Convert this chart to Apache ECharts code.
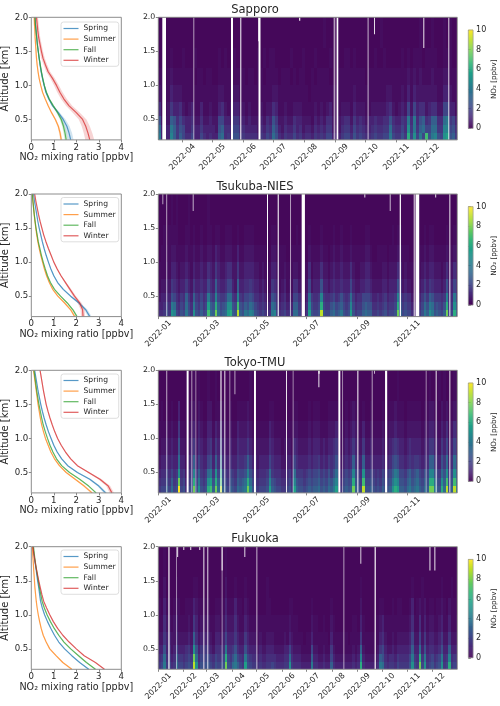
<!DOCTYPE html>
<html><head><meta charset="utf-8">
<style>html,body{margin:0;padding:0;background:#fff}#c{width:500px;height:706px}</style>
<script src="https://cdn.jsdelivr.net/npm/echarts@6/dist/echarts.min.js"></script>
</head><body><div id="c"></div>
<script>
const altitudes=[0.2,0.3,0.4,0.5,0.6,0.7,0.8,0.9,1.0,1.1,1.2,1.3,1.4,1.5,1.6,1.7,1.8,1.9,2.0];
const seasons=['Spring','Summer','Fall','Winter'];
const seasonColors=['#1f77b4','#ff7f0e','#2ca02c','#d62728'];
const stations=['Sapporo','Tsukuba-NIES','Tokyo-TMU','Fukuoka'];

// profiles [ppbv] at the altitudes above
const sapporoSpring=[1.75,1.68,1.58,1.42,1.2,.95,.78,.65,.57,.5,.44,.39,.35,.31,.27,.24,.21,.18,.16];
const sapporoSummer=[1.33,1.28,1.2,1.07,.9,.75,.62,.5,.42,.35,.3,.26,.23,.21,.19,.17,.16,.14,.13];
const sapporoFall=[1.55,1.5,1.43,1.33,1.17,.98,.8,.67,.58,.51,.45,.4,.35,.31,.27,.24,.21,.18,.17];
const sapporoWinter=[2.6,2.52,2.42,2.28,2.0,1.68,1.45,1.27,1.12,.95,.75,.63,.52,.45,.39,.33,.29,.26,.23];
const tsukubaSpring=[2.6,2.42,2.12,1.75,1.42,1.17,1.0,.87,.76,.66,.57,.49,.42,.35,.29,.24,.19,.14,.1];
const tsukubaSummer=[1.93,1.75,1.48,1.18,.95,.8,.68,.58,.5,.42,.35,.29,.24,.2,.16,.13,.1,.07,.05];
const tsukubaFall=[2.03,1.85,1.6,1.3,1.03,.85,.72,.62,.53,.45,.38,.31,.26,.21,.17,.13,.1,.07,.05];
const tsukubaWinter=[2.3,2.28,2.15,1.92,1.72,1.52,1.32,1.15,1.0,.88,.76,.65,.55,.47,.39,.32,.26,.2,.15];
const tokyoSpring=[3.3,3.0,2.6,2.05,1.62,1.35,1.15,1.0,.88,.76,.66,.57,.49,.42,.36,.3,.25,.2,.15];
const tokyoSummer=[2.7,2.35,1.95,1.55,1.25,1.03,.87,.75,.63,.54,.46,.4,.35,.3,.26,.22,.18,.14,.1];
const tokyoFall=[2.88,2.55,2.15,1.7,1.35,1.12,.96,.83,.72,.62,.53,.46,.4,.34,.29,.24,.2,.16,.12];
const tokyoWinter=[3.58,3.42,3.05,2.55,2.05,1.75,1.52,1.33,1.17,1.04,.93,.83,.74,.66,.6,.54,.49,.44,.39];
const fukuokaSpring=[2.55,2.15,1.8,1.48,1.22,1.03,.87,.72,.59,.49,.41,.37,.33,.28,.24,.2,.15,.11,.07];
const fukuokaSummer=[1.8,1.4,1.1,.82,.66,.53,.44,.37,.31,.26,.22,.19,.16,.14,.12,.1,.08,.06,.05];
const fukuokaFall=[2.85,2.45,2.1,1.75,1.45,1.22,1.02,.85,.7,.58,.48,.42,.36,.31,.26,.21,.17,.13,.1];
const fukuokaWinter=[3.25,2.85,2.35,2.0,1.68,1.4,1.17,.98,.82,.68,.55,.47,.4,.33,.27,.21,.16,.11,.07];

// half-width of the shaded band [ppbv]
const sapporoSpread=[[.13,.13,.12,.1,.07,.05,.04,.03,.03,.03,.03,.03,.02,.02,.02,.02,.02,.02,.02],[.05,.05,.04,.04,.03,.03,.02,.02,.02,.02,.02,.02,.02,.02,.02,.02,.02,.02,.02],[.07,.07,.06,.06,.05,.04,.03,.03,.03,.03,.03,.03,.03,.02,.02,.02,.02,.02,.02],[.2,.19,.18,.17,.16,.14,.13,.12,.11,.1,.09,.08,.08,.07,.07,.07,.07,.07,.07]];
const tsukubaSpread=[[.08,.08,.07,.05,.04,.03,.03,.02,.02,.02,.02,.02,.02,.02,.01,.01,.01,.01,.01],[.04,.04,.03,.03,.02,.02,.02,.01,.01,.01,.01,.01,.01,.01,.01,.01,.01,.01,.01],[.04,.04,.03,.03,.02,.02,.02,.02,.01,.01,.01,.01,.01,.01,.01,.01,.01,.01,.01],[.09,.09,.09,.07,.06,.04,.03,.03,.02,.02,.02,.02,.02,.02,.01,.01,.01,.01,.01]];
const tokyoSpread=[[.08,.07,.06,.05,.04,.03,.03,.03,.02,.02,.02,.02,.02,.02,.02,.01,.01,.01,.01],[.07,.06,.05,.04,.03,.02,.02,.02,.02,.01,.01,.01,.01,.01,.01,.01,.01,.01,.01],[.04,.03,.03,.03,.02,.02,.02,.02,.01,.01,.01,.01,.01,.01,.01,.01,.01,.01,.01],[.1,.09,.08,.06,.04,.03,.03,.02,.02,.02,.02,.02,.02,.02,.02,.02,.02,.02,.02]];
const fukuokaSpread=[[.04,.03,.03,.03,.02,.02,.02,.02,.02,.01,.01,.01,.01,.01,.01,.01,.01,.01,.01],[.04,.04,.03,.03,.02,.02,.02,.02,.01,.01,.01,.01,.01,.01,.01,.01,.01,.01,.01],[.04,.04,.04,.03,.03,.03,.02,.02,.02,.02,.02,.02,.02,.02,.01,.01,.01,.01,.01],[.03,.03,.03,.02,.02,.02,.02,.02,.02,.01,.01,.01,.01,.01,.01,.01,.01,.01,.01]];

// curtain cells: rows lowest layer first, one character per 3-day column
const layerEdges=[0.2,0.3,0.42,0.55,0.75,1.0,1.25,1.55,2.0];
const levelChars='0123456789abcdefghi';
const levelValues=[0.2,0.35,0.6,0.95,1.3,1.65,2.1,2.5,3.0,3.5,4.0,4.5,5.0,5.6,6.2,6.9,7.8,9,10];
const sapporoRows=[
'a333b85864 4633643433 8945377554 4443546597 4354464534 4354546633 3566475654 4565566a65 575e6c6a6f 7ab76cd785',
'9333a85763 3533533332 7844366443 3332435486 3243353423 3243435522 2455364543 3454455954 464c5a5896 69955bb674',
'7222874643 3422422322 6633255332 3222324375 2232243322 2132324421 2344253432 3343344743 354a4a4784 588449a563',
'4112533421 2311311211 3421233221 2111212243 1121122211 1121212311 1222132221 1222223421 2326263442 3442266331',
'2111322211 1111111111 2211122111 1111111122 1111111111 0111111111 1111121111 1111112211 1213132222 2221133211',
'1101211111 1101101100 1111111110 1101101111 0111010110 0101111000 1111111110 1111111111 1112121211 1211122111',
'0000100010 0010000000 1010010000 0001010110 0000100010 0010000100 0011010000 0010010000 0101011101 1110011100',
'0000000000 0000000000 0000000000 0000000000 0000000000 0000010000 0000000000 0000100000 0000000100 0100010100'];
const tsukubaRows=[
'44575cb657 6a75c76867 f98g9789de 87h87a9ba7 656544ab64 5645499633 5d7667h766 8978a767d7 5668988556 5675667g86 76643357a8 ca78768g66e8',
'33464a9546 5964a65756 d87e8678cc 76f7687986 5454339853 4534388522 4b6556e655 7867865 6b6 4557877445 4564556e75 6553224697 a96765 7e55c7',
'2334376435 4853854645 a65b655699 54b5466764 4343227642 3423266411 395445b544 5645754595 3446665334 3453445b64 5442113575 8755545b44a5',
'1223254323 3532533433 6438433466 3283344543 3232115431 2312144211 2623337332 3433433363 2233443222 2332333742 3221112353 543332373363',
'1112133212 2321322322 4325322344 2252233332 2121113321 1211122111 1412224221 2322322242 1122332111 1221222431 2111111232 332221242242',
'0111122111 1211211211 2213211222 1131122221 1111002211 1100111100 0211112110 1211211121 1111221001 1110111221 1100001121 221111121121',
'0010111100 0110100100 1101100111 0010011110 0000001100 0000001000 0100001000 0100100010 0000110000 0000010110 0000000010 110000010010',
'0000010100 0010000000 1000000000 0000000000 0000000000 0000000000 0000000000 0000000000 0000000000 0000000000 0000000000 000000000000'];
const tokyoRows=[
'5668696 7i6 7467g7c767 ef8g9h8768 76989agb76 56667d8766 55675d8776 7878897879 8ad757878g 876h778767 68778ced88 79a89a8798 gga87e9h78ha',
'4557585 6g5 6356e6a656 cd7e8f7657 658789e965 45556b7655 44564b7665 6767786768 79b646767e 765f667656 57667acb77 6897897687 ee976c8f67f9',
'344646 45c4 5245b58545 9a5c6d6546 5476 67b754 3444595444 3345395554 5656675657 5795356 56b 654c556545 4655 68a966 5786786576 bb7659 7c56c7',
'2334343 393 3134836433 6738494334 3354458533 2333364333 2233264333 3434453435 4573234348 4338334333 3433467644 3454554344 885437593495',
'1223232 272 2123524322 4525363223 2243335322 2222243222 1222143222 2323332323 3452123235 3225223222 2322345433 2343333233 553325362363',
'1112121 151 1012313211 3313242112 1132223211 1111132111 1111122111 1212221112 2231112123 2113112111 1211223222 1222222122 332213241242',
'0101010 030 0001202100 2201121001 0011112100 0000011000 0000011000 0101110001 1110001012 1001001000 0100112111 0111111011 221102120121',
'0000000000 0000101000 1001000000 0000000100 0000000000 0000000000 0000000000 0000000000 0000000000 0000000100 0000000000 100010100010'];
const fukuokaRows=[
'56a5645966 5676hc5767 7657667g76 9a865d7655 4544556544 455c544433 33a4433433 8433333334 34e4333334 a954554655 557c65g6c5 67567c56e565',
'4594534855 4565g94656 6546556e65 79654a6544 3433444433 3449433322 2283322322 6322222223 23b3222223 8743443544 446a54e5a4 56456a45b454',
'3373423633 3453c73545 4324444a44 5743374333 2322333222 2336322211 1162211211 5211111112 1282111112 5632232333 3348339373 443347338333',
'2253322422 2232842333 3213323633 3532253222 1211222111 1213211110 1131111110 3111111011 1151111111 3421121222 2236226252 332235225222',
'1142212311 1121531222 2112212422 2421132111 1111111111 1112111000 0021100100 2100000001 1031000011 2311111111 1124114131 221123113111',
'1031101210 0111321111 1001111311 1311021000 0000110000 0001100000 0010000000 1000000000 0020000000 1100010110 0013012120 110112102110',
'0020000100 0000110000 0000000200 0100010000 0000100000 0000000000 0000000000 0000000000 0010000000 0000000000 0001000100 000001000100',
'0010000000 0000000000 0000000100 0000000000 0000000000 0000000000 0000000000 0000000000 0000000000 0000000000 0000000000 000000000000'];

// missing data: [first day of 2022 (0 = Jan 1), days wide, lowest altitude, opacity]
const sapporoGaps=[[70,3.7,.2,1],[101,1,.2,.6],[138.7,2,.2,1],[148,1,.2,1],[166.2,2,.2,1],[166,.6,1.65,1],[206.7,1.3,1.95,.85],[241.3,1.7,.2,.6],[244.3,1.7,.2,1],[275.3,1,.2,.7],[281.7,.8,1.75,.85],[331,.8,1.55,.9],[356,1,.2,.85]];
const tsukubaGaps=[[4.9,.8,1.85,.6],[9.4,1.5,.2,.5],[41.9,1.5,1.75,.55],[132.7,1.2,.2,1],[145.7,1.5,.2,.85],[160.8,1.2,.2,.6],[175,4,.2,1],[251.5,.8,1.95,.85],[282.5,.8,1.75,.7],[294.7,1.5,.2,1],[311.8,1.2,.2,.9],[314,4.5,.2,1],[338,.8,1.95,.85],[355.3,1,.2,.9]];
const tokyoGaps=[[9.4,1.6,.2,.5],[34.6,2.4,.2,1],[40.3,1,.2,.6],[45.2,1,.2,.5],[75.3,2.4,.2,.55],[80.6,1,.2,.9],[86.7,1.2,.2,.5],[92.8,1.4,1.65,.55],[116.8,2.4,.2,1],[155.9,.8,.2,.9],[164,1.2,.2,.5],[195.4,.8,1.75,.9],[195.4,1.6,1.95,.9],[219.8,2.4,.2,1],[224.3,1,.2,.5],[243,1.2,.2,1],[260.5,1,.2,.6],[263.3,.8,1.95,.7],[276.8,2.6,.2,1],[326.4,1,.2,.5],[338.6,.8,.2,.9],[355.3,.8,.2,.9]];
const fukuokaGaps=[[12.2,1.6,.2,.9],[21.6,1,.2,.5],[23,.8,1.85,.9],[30.5,.8,1.95,.9],[39,.8,1.95,.9],[50,.8,1.95,.9],[55,.8,.2,.9],[59.8,.8,.2,.85],[77.3,1,.2,.5],[77.3,1,1.65,.95],[105,.8,1.85,.85],[119.7,.8,.2,.7],[225.9,.8,.2,.6],[246.6,.8,1.75,.8],[264,1.6,.2,.9],[331,.8,1.65,.9],[337,.8,1.65,.9]];

const monthDays=[0,31,59,90,120,151,181,212,243,273,304,334];
const monthLabels=['2022-01','2022-02','2022-03','2022-04','2022-05','2022-06','2022-07','2022-08','2022-09','2022-10','2022-11','2022-12'];
const sapporoTicks=[90,120,151,181,212,243,273,304,334];
const biMonthTicks=[0,59,120,181,243,304];
const allMonthTicks=monthDays;
const altitudeTicks=[0.5,1.0,1.5,2.0];
const viridis=['#440154','#482878','#3e4989','#31688e','#26828e','#1f9e89','#35b779','#6ece58','#b5de2b','#fde725'];

function viridisColor(v){
  const t=Math.max(0,Math.min(1,v/10))*(viridis.length-1),i=Math.min(Math.floor(t),viridis.length-2),f=t-i;
  const c=s=>[1,3,5].map(k=>parseInt(s.substr(k,2),16));
  const a=c(viridis[i]),b=c(viridis[i+1]);
  return 'rgb('+a.map((x,k)=>Math.round(x+(b[k]-x)*f)).join(',')+')';
}
const FONT='DejaVu Sans',INK='#262626',EDGE='#8c8c8c';
const tops=[17.3,194,370.3,546.7],H=122.6;
const titleY=[11.5,188,364,540];
const panels=[
 {profiles:[sapporoSpring,sapporoSummer,sapporoFall,sapporoWinter],spread:sapporoSpread,rows:sapporoRows,gaps:sapporoGaps,ticks:sapporoTicks,d0:66,d1:365,legTop:22},
 {profiles:[tsukubaSpring,tsukubaSummer,tsukubaFall,tsukubaWinter],spread:tsukubaSpread,rows:tsukubaRows,gaps:tsukubaGaps,ticks:biMonthTicks,d0:0,d1:365,legTop:197.5},
 {profiles:[tokyoSpring,tokyoSummer,tokyoFall,tokyoWinter],spread:tokyoSpread,rows:tokyoRows,gaps:tokyoGaps,ticks:biMonthTicks,d0:0,d1:365,legTop:374},
 {profiles:[fukuokaSpring,fukuokaSummer,fukuokaFall,fukuokaWinter],spread:fukuokaSpread,rows:fukuokaRows,gaps:fukuokaGaps,ticks:allMonthTicks,d0:0,d1:365,legTop:550}
];
const grid=[],xAxis=[],yAxis=[],series=[],legend=[],title=[];
const rectItem=(params,api)=>{
  const a=api.coord([api.value(0),api.value(2)]),b=api.coord([api.value(1),api.value(3)]);
  const x=Math.round(a[0]),w=Math.max(1,Math.round(b[0])-x),y=Math.round(b[1]),h=Math.round(a[1])-y;
  return {type:'rect',shape:{x:x,y:y,width:w,height:h},style:{fill:viridisColor(api.value(4))}};
};
const tickCfg={show:true,length:2.5,lineStyle:{color:'#555',width:.7}};
panels.forEach((p,k)=>{
  const top=tops[k];
  title.push({text:stations[k],left:255,top:titleY[k]-7,padding:0,textAlign:'center',textStyle:{fontFamily:FONT,fontSize:11.5,fontWeight:'normal',color:INK}});
  // profile panel
  const gp=grid.length;
  grid.push({left:31.3,top:top,width:90,height:H,show:true,borderColor:EDGE,borderWidth:1,backgroundColor:'transparent',z:5,outerBoundsMode:'none'});
  xAxis.push({gridIndex:gp,type:'value',min:0,max:4,interval:1,splitLine:{show:false},axisLine:{show:false},axisTick:tickCfg,
    axisLabel:{fontFamily:FONT,fontSize:8.6,color:INK,margin:3},name:'NO₂ mixing ratio [ppbv]',nameLocation:'middle',nameGap:12,nameTextStyle:{fontFamily:FONT,fontSize:9.6,color:INK}});
  yAxis.push({gridIndex:gp,type:'value',min:.2,max:2,splitLine:{show:false},axisLine:{show:false},axisTick:{...tickCfg,customValues:altitudeTicks},
    axisLabel:{customValues:altitudeTicks,fontFamily:FONT,fontSize:8.6,color:INK,margin:3,formatter:v=>v.toFixed(1),showMinLabel:true,showMaxLabel:true},name:'Altitude [km]',nameLocation:'middle',nameGap:17,nameTextStyle:{fontFamily:FONT,fontSize:10,color:INK}});
  seasons.forEach((s,i)=>{
    const data=altitudes.map((a,j)=>[p.profiles[i][j]-p.spread[i][j],p.profiles[i][j]+p.spread[i][j],a]);
    series.push({name:s+' range',type:'custom',xAxisIndex:gp,yAxisIndex:gp,silent:true,data:data,encode:{x:[0,1],y:2},z:2,
      renderItem:(params,api)=>{
        if(params.dataIndex!==0) return null;
        const lo=data.map(d=>api.coord([d[0],d[2]])),hi=data.map(d=>api.coord([d[1],d[2]])).reverse();
        return {type:'polygon',shape:{points:lo.concat(hi)},style:{fill:seasonColors[i],opacity:.2}};
      }});
  });
  seasons.forEach((s,i)=>{
    series.push({name:s,type:'line',xAxisIndex:gp,yAxisIndex:gp,showSymbol:false,symbol:'none',z:3,silent:true,
      lineStyle:{color:seasonColors[i],width:1.2,opacity:.72},itemStyle:{color:seasonColors[i]},
      data:altitudes.map((a,j)=>[p.profiles[i][j],a])});
  });
  legend.push({data:seasons,left:61,top:p.legTop,orient:'vertical',icon:'rect',itemWidth:15,itemHeight:1.2,itemGap:2.6,itemGap:2.6,padding:[2.5,3,2,2.5],
    borderColor:'#d5d5d5',borderWidth:.8,borderRadius:2.5,backgroundColor:'rgba(255,255,255,.8)',selectedMode:false,itemStyle:{opacity:.75},
    textStyle:{fontFamily:FONT,fontSize:7.6,lineHeight:8,color:INK,padding:[0,0,0,0]}});
  // curtain panel
  const gh=grid.length;
  grid.push({left:158.3,top:top,width:299,height:H,show:true,borderColor:EDGE,borderWidth:1,backgroundColor:'transparent',z:5,outerBoundsMode:'none'});
  const tickValues=p.ticks;
  xAxis.push({gridIndex:gh,type:'value',min:p.d0,max:p.d1,splitLine:{show:false},axisLine:{show:false},
    axisTick:{...tickCfg,customValues:tickValues},
    axisLabel:{customValues:tickValues,fontFamily:FONT,fontSize:8,color:INK,rotate:45,align:'center',verticalAlign:'middle',margin:17,
      hideOverlap:false,formatter:v=>monthLabels[monthDays.indexOf(v)]}});
  yAxis.push({gridIndex:gh,type:'value',min:.2,max:2,splitLine:{show:false},axisLine:{show:false},axisTick:{...tickCfg,customValues:altitudeTicks},
    axisLabel:{customValues:altitudeTicks,fontFamily:FONT,fontSize:7.8,color:INK,margin:3,formatter:v=>v.toFixed(1)}});
  const cells=[];
  const bin=3;
  p.rows.forEach((r,l)=>{
    const row=r.replace(/\s/g,'');
    const n=Math.ceil((p.d1-p.d0)/bin);
    for(let i=0;i<n;i++){
      const ch=i<row.length?row[i]:row[row.length-1];
      cells.push([p.d0+i*bin,Math.min(p.d1,p.d0+(i+1)*bin),layerEdges[l],layerEdges[l+1],levelValues[levelChars.indexOf(ch)]]);
    }
  });
  series.push({type:'custom',xAxisIndex:gh,yAxisIndex:gh,silent:true,z:2,data:cells,encode:{x:[0,1],y:[2,3]},renderItem:rectItem,animation:false});
  series.push({type:'custom',xAxisIndex:gh,yAxisIndex:gh,silent:true,z:3,data:p.gaps.map(g=>[g[0],g[0]+g[1],g[2],2,g[3]]),encode:{x:[0,1],y:[2,3]},
    renderItem:(params,api)=>{
      const a=api.coord([api.value(0),api.value(2)]),b=api.coord([api.value(1),api.value(3)]);
      return {type:'rect',shape:{x:a[0],y:b[1],width:Math.max(1,b[0]-a[0]),height:a[1]-b[1]},style:{fill:'#fff',opacity:api.value(4)}};
    }});
  // colour bar
  const gc=grid.length;
  grid.push({left:468.3,top:top+12.7,width:4.8,height:98.4,show:true,borderColor:'#9a9a9a',borderWidth:.7,backgroundColor:'transparent',z:5,outerBoundsMode:'none'});
  xAxis.push({gridIndex:gc,type:'value',min:0,max:1,show:false});
  yAxis.push({gridIndex:gc,type:'value',min:0,max:10,interval:2,position:'right',splitLine:{show:false},axisLine:{show:false},axisTick:{show:true,length:2.5,lineStyle:{color:'#555',width:.7}},
    axisLabel:{fontFamily:FONT,fontSize:8,color:INK,margin:3},name:'NO₂ [ppbv]',nameLocation:'middle',nameRotate:90,nameGap:13,nameTextStyle:{fontFamily:FONT,fontSize:7.2,color:INK}});
  const barCells=[];
  for(let j=0;j<100;j++) barCells.push([0,1,j/10,(j+1)/10+.03,(j+.5)/10]);
  series.push({type:'custom',xAxisIndex:gc,yAxisIndex:gc,silent:true,z:2,data:barCells,encode:{x:[0,1],y:[2,3]},
    renderItem:(params,api)=>{
      const a=api.coord([api.value(0),api.value(2)]),b=api.coord([api.value(1),api.value(3)]);
      return {type:'rect',shape:{x:a[0],y:b[1],width:b[0]-a[0],height:a[1]-b[1]},style:{fill:viridisColor(api.value(4))}};
    }});
});
const chart=echarts.init(document.getElementById('c'),null,{renderer:'canvas'});
chart.setOption({animation:false,backgroundColor:'#fff',title,grid,xAxis,yAxis,legend,series,tooltip:{show:false}});
</script></body></html>
